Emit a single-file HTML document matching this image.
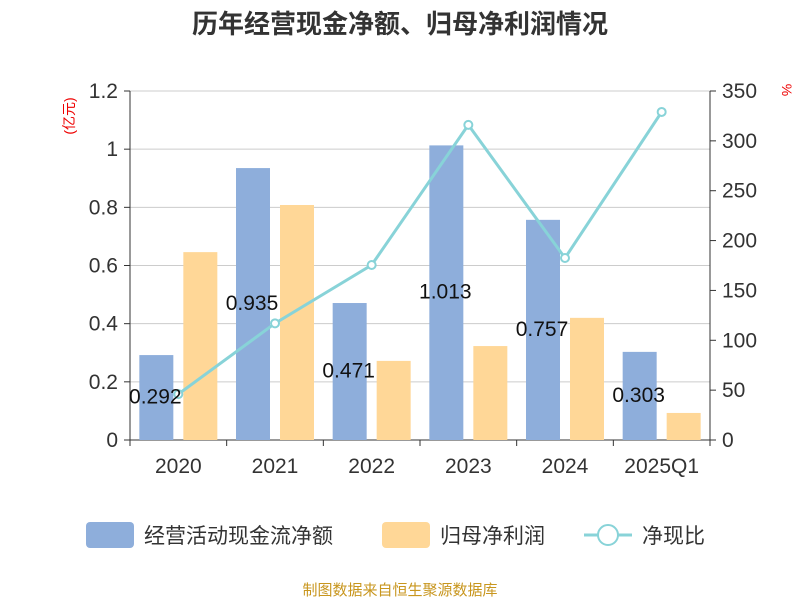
<!DOCTYPE html>
<html><head><meta charset="utf-8"><style>
body{margin:0;background:#fff;font-family:"Liberation Sans","Noto Sans CJK SC",sans-serif}
</style></head><body>
<svg id="c" width="800" height="600" xmlns="http://www.w3.org/2000/svg" font-family="Liberation Sans, Noto Sans CJK SC, sans-serif"></svg>
<script>
const categories=["2020","2021","2022","2023","2024","2025Q1"];
const cashFlow=[0.292,0.935,0.471,1.013,0.757,0.303];
const netProfit=[0.646,0.808,0.272,0.323,0.42,0.093];
const ratio=[46,117,175.5,316,182.5,329];
const leftTicks=["0","0.2","0.4","0.6","0.8","1","1.2"];
const rightTicks=["0","50","100","150","200","250","300","350"];
const svg=document.getElementById('c');
const NS="http://www.w3.org/2000/svg";
function mk(t,a,p){const e=document.createElementNS(NS,t);for(const k in a)e.setAttribute(k,a[k]);(p||svg).appendChild(e);return e;}
const L=130,R=710,T=91,B=440;
const yL=v=>B-(v/1.2)*(B-T);
const yR=v=>B-(v/350)*(B-T);
const step=(R-L)/categories.length;
const xC=i=>L+step*(i+0.5);
let e;
e=mk('text',{x:400,y:33,'text-anchor':'middle','font-size':26,'font-weight':'bold',fill:'#333'});e.textContent='历年经营现金净额、归母净利润情况';

leftTicks.forEach((t,i)=>{const v=i*0.2,y=yL(v);
 if(i>0){e=mk('line',{x1:L,x2:R,y1:y,y2:y,stroke:'#ccc','stroke-width':1});}
 e=mk('line',{x1:L-6,x2:L,y1:y,y2:y,stroke:'#333'});
 e=mk('text',{x:L-12,y:y+7,'text-anchor':'end','font-size':21,fill:'#333'});e.textContent=t;
 });
rightTicks.forEach((t,i)=>{const y=yR(i*50);
 mk('line',{x1:R,x2:R+6,y1:y,y2:y,stroke:'#333'});
 e=mk('text',{x:R+12,y:y+7,'font-size':21,fill:'#333'});e.textContent=t;
 });
e=mk('text',{x:0,y:0,transform:'translate(74,116) rotate(-90)','text-anchor':'middle','font-size':14,fill:'#e00'});e.textContent='(亿元)';

e=mk('text',{x:0,y:0,transform:'translate(782,90) rotate(90)','text-anchor':'middle','font-size':14,fill:'#e00'});e.textContent='%';

mk('line',{x1:L,x2:L,y1:T,y2:B,stroke:'#333'});
mk('line',{x1:R,x2:R,y1:T,y2:B,stroke:'#333'});
mk('line',{x1:L,x2:R,y1:B,y2:B,stroke:'#333'});
categories.forEach((c,i)=>{
 mk('line',{x1:L+step*i,x2:L+step*i,y1:B,y2:B+6,stroke:'#333'});
 e=mk('text',{x:xC(i),y:473,'text-anchor':'middle','font-size':21,fill:'#333'});e.textContent=c;
 
 const bw=34;
 e=mk('rect',{x:xC(i)-39,y:yL(cashFlow[i]),width:bw,height:B-yL(cashFlow[i]),fill:'#8eaedb'});
 
 e=mk('rect',{x:xC(i)+5,y:yL(netProfit[i]),width:bw,height:B-yL(netProfit[i]),fill:'#ffd797'});
 
});
mk('line',{x1:L+step*6,x2:L+step*6,y1:B,y2:B+6,stroke:'#333'});
const pts=ratio.map((v,i)=>xC(i)+','+yR(v)).join(' ');
e=mk('polyline',{points:pts,fill:'none',stroke:'#88d3d8','stroke-width':3});

ratio.forEach((v,i)=>{e=mk('circle',{cx:xC(i),cy:yR(v),r:4,fill:'#fff',stroke:'#88d3d8','stroke-width':2});
 });
cashFlow.forEach((v,i)=>{e=mk('text',{x:xC(i)-23,y:(yL(v)+B)/2+6,'text-anchor':'middle','font-size':21,fill:'#111'});e.textContent=v.toFixed(3);
 });
e=mk('rect',{x:86,y:522,width:48,height:26,rx:4,fill:'#8eaedb'});
e=mk('text',{x:144,y:543,'font-size':21,fill:'#333'});e.textContent='经营活动现金流净额';
e=mk('rect',{x:382,y:522,width:48,height:26,rx:4,fill:'#ffd797'});
e=mk('text',{x:440,y:543,'font-size':21,fill:'#333'});e.textContent='归母净利润';
mk('line',{x1:584,x2:632,y1:535,y2:535,stroke:'#88d3d8','stroke-width':3});
e=mk('circle',{cx:608,cy:535,r:10,fill:'#fff',stroke:'#88d3d8','stroke-width':2});
e=mk('text',{x:642,y:543,'font-size':21,fill:'#333'});e.textContent='净现比';
e=mk('text',{x:400,y:595,'text-anchor':'middle','font-size':15,fill:'#c8961e'});e.textContent='制图数据来自恒生聚源数据库';

</script>
</body></html>
